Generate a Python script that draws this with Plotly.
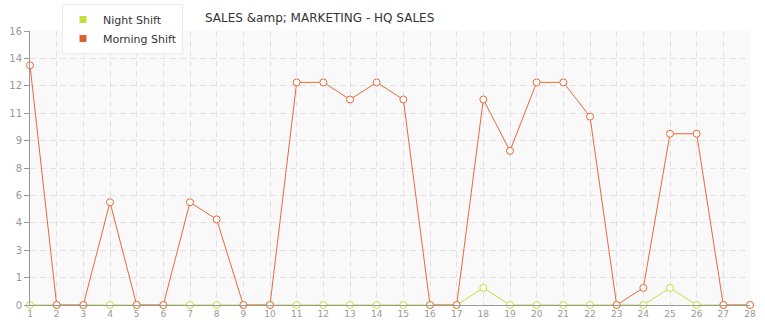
import plotly.graph_objects as go

days = list(range(1, 29))
night_shift = [0, 0, 0, 0, 0, 0, 0, 0, 0, 0, 0, 0, 0, 0, 0, 0, 0, 1, 0, 0, 0, 0, 0, 0, 1, 0, 0, 0]
morning_shift = [14, 0, 0, 6, 0, 0, 6, 5, 0, 0, 13, 13, 12, 13, 12, 0, 0, 12, 9, 13, 13, 11, 0, 1, 10, 10, 0, 0]
y_tickvals = [0, 1.6, 3.2, 4.8, 6.4, 8, 9.6, 11.2, 12.8, 14.4, 16]
y_ticktext = ["0", "1", "3", "4", "6", "8", "9", "11", "12", "14", "16"]

NIGHT = "#bde03a"
MORNING = "#e8693a"
FONT = "DejaVu Sans"

fig = go.Figure()
fig.add_trace(go.Scatter(
    x=days, y=night_shift, mode="lines+markers", name="Night Shift", showlegend=False,
    line=dict(color=NIGHT, width=1),
    marker=dict(size=7, color="white", line=dict(color=NIGHT, width=1)),
    cliponaxis=False,
))
fig.add_trace(go.Scatter(
    x=days, y=morning_shift, mode="lines+markers", name="Morning Shift", showlegend=False,
    line=dict(color=MORNING, width=1),
    marker=dict(size=7, color="white", line=dict(color=MORNING, width=1)),
    cliponaxis=False,
))
# legend entries (square swatches)
for name, col in [("Night Shift", NIGHT), ("Morning Shift", "#e0622a")]:
    fig.add_trace(go.Scatter(x=[None], y=[None], mode="markers", name=name,
                             marker=dict(symbol="square", size=7, color=col)))

fig.update_layout(
    width=765, height=320,
    margin=dict(l=30, r=15, t=31, b=15, autoexpand=False),
    paper_bgcolor="white",
    plot_bgcolor="#f9f9f9",
    font=dict(family=FONT, size=10, color="#999999"),
    title=dict(text="SALES &amp;amp; MARKETING - HQ SALES", x=205 / 765, xref="container",
               xanchor="left", y=1 - 18 / 320, yref="container", yanchor="middle",
               font=dict(family=FONT, size=12, color="#333333")),
    legend=dict(x=62 / 765, y=1 - 4 / 320, xref="container", yref="container",
                xanchor="left", yanchor="top", bgcolor="white", bordercolor="#ececec",
                borderwidth=1,
                font=dict(family=FONT, size=11, color="#333333"),
                itemwidth=30, tracegroupgap=0),
    showlegend=True,
)
fig.update_xaxes(
    range=[1, 28], tickmode="array", tickvals=days, ticktext=[str(d) for d in days],
    showgrid=True, gridcolor="#e2e2e2", griddash="6px,4px", gridwidth=1,
    showline=True, linecolor="#999999", linewidth=1,
    ticks="", zeroline=False, tickfont=dict(size=9, color="#999999"),
    ticklabelstandoff=0,
)
fig.update_yaxes(
    range=[0, 16], tickmode="array", tickvals=y_tickvals, ticktext=y_ticktext,
    showgrid=True, gridcolor="#e2e2e2", griddash="6px,4px", gridwidth=1,
    showline=True, linecolor="#999999", linewidth=1,
    ticks="outside", ticklen=5, tickcolor="#999999",
    zeroline=False, tickfont=dict(size=10, color="#999999"),
)

fig.write_html("out.html")
